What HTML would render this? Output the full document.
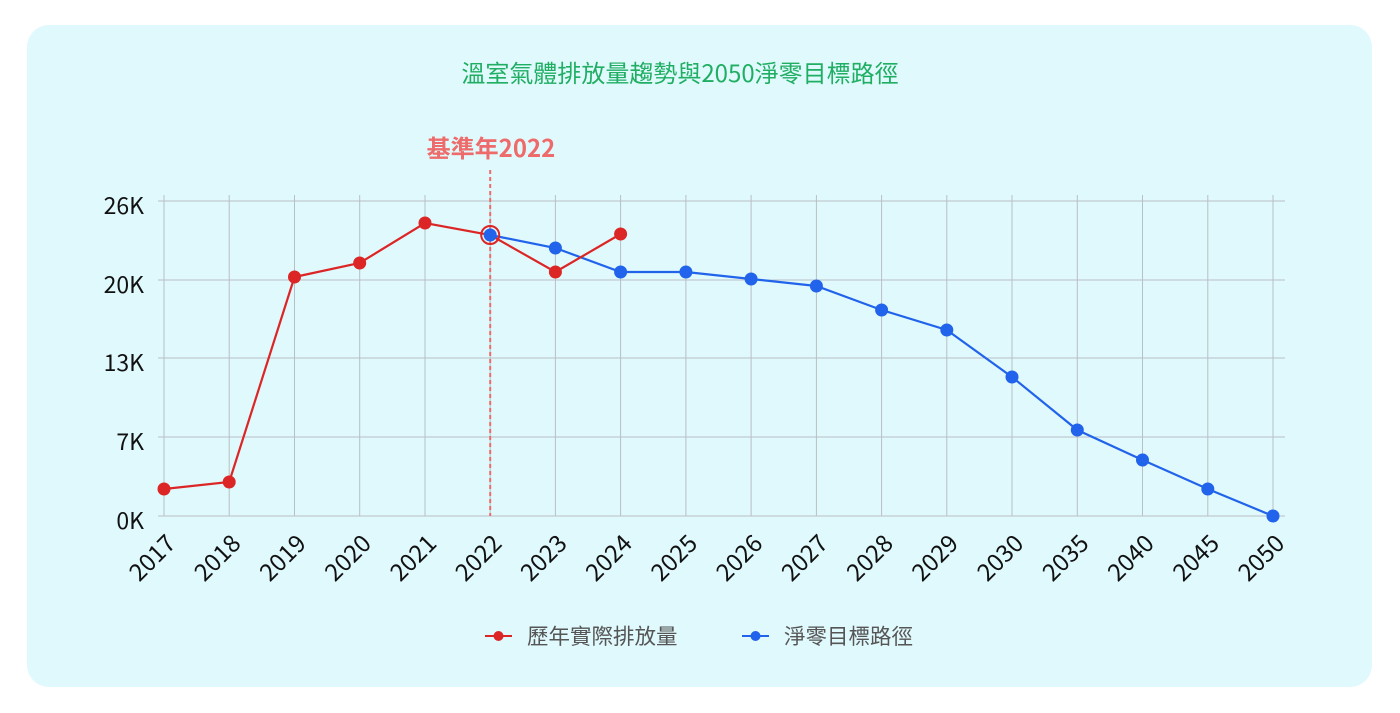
<!DOCTYPE html>
<html><head><meta charset="utf-8"><style>
html,body{margin:0;padding:0;background:#fff;}
svg{display:block;}
text{font-family:"Noto Sans CJK TC","Liberation Sans",sans-serif;}
</style></head><body>
<svg width="1400" height="713" xmlns="http://www.w3.org/2000/svg">
<rect x="27" y="25" width="1345" height="662" rx="22" fill="#e0f9fd"/>
<text x="680" y="82" text-anchor="middle" font-size="24" fill="#1fae62">溫室氣體排放量趨勢與2050淨零目標路徑</text>
<g stroke="#b9bfc3" stroke-width="1">
<line x1="158" y1="201" x2="1285" y2="201"/>
<line x1="158" y1="280" x2="1285" y2="280"/>
<line x1="158" y1="358" x2="1285" y2="358"/>
<line x1="158" y1="437" x2="1285" y2="437"/>
<line x1="158" y1="516" x2="1285" y2="516"/>
<line x1="164" y1="195" x2="164" y2="516"/><line x1="229.2" y1="195" x2="229.2" y2="516"/><line x1="294.5" y1="195" x2="294.5" y2="516"/><line x1="359.7" y1="195" x2="359.7" y2="516"/><line x1="425" y1="195" x2="425" y2="516"/><line x1="490.2" y1="195" x2="490.2" y2="516"/><line x1="555.4" y1="195" x2="555.4" y2="516"/><line x1="620.6" y1="195" x2="620.6" y2="516"/><line x1="685.9" y1="195" x2="685.9" y2="516"/><line x1="751.1" y1="195" x2="751.1" y2="516"/><line x1="816.4" y1="195" x2="816.4" y2="516"/><line x1="881.6" y1="195" x2="881.6" y2="516"/><line x1="946.8" y1="195" x2="946.8" y2="516"/><line x1="1012" y1="195" x2="1012" y2="516"/><line x1="1077.3" y1="195" x2="1077.3" y2="516"/><line x1="1142.5" y1="195" x2="1142.5" y2="516"/><line x1="1207.8" y1="195" x2="1207.8" y2="516"/><line x1="1273" y1="195" x2="1273" y2="516"/>
</g>
<g font-size="23" fill="#111" text-anchor="end">
<text x="144" y="214">26K</text><text x="144" y="293">20K</text><text x="144" y="371">13K</text><text x="144" y="450">7K</text><text x="144" y="529">0K</text>
</g>
<g font-size="24" fill="#111" text-anchor="end">
<text transform="translate(177,545) rotate(-45)">2017</text><text transform="translate(242.2,545) rotate(-45)">2018</text><text transform="translate(307.5,545) rotate(-45)">2019</text><text transform="translate(372.7,545) rotate(-45)">2020</text><text transform="translate(438,545) rotate(-45)">2021</text><text transform="translate(503.2,545) rotate(-45)">2022</text><text transform="translate(568.4,545) rotate(-45)">2023</text><text transform="translate(633.6,545) rotate(-45)">2024</text><text transform="translate(698.9,545) rotate(-45)">2025</text><text transform="translate(764.1,545) rotate(-45)">2026</text><text transform="translate(829.4,545) rotate(-45)">2027</text><text transform="translate(894.6,545) rotate(-45)">2028</text><text transform="translate(959.8,545) rotate(-45)">2029</text><text transform="translate(1025,545) rotate(-45)">2030</text><text transform="translate(1090.3,545) rotate(-45)">2035</text><text transform="translate(1155.5,545) rotate(-45)">2040</text><text transform="translate(1220.8,545) rotate(-45)">2045</text><text transform="translate(1286,545) rotate(-45)">2050</text>
</g>
<line x1="490.2" y1="170" x2="490.2" y2="516" stroke="#ee6b6b" stroke-width="2" stroke-dasharray="4,3"/>
<text x="491" y="157" text-anchor="middle" font-size="24" font-weight="bold" fill="#ee6b6b">基準年2022</text>
<polyline fill="none" stroke="#2163eb" stroke-width="2.2" points="490.2,235 555.4,248 620.6,272 685.9,272 751.1,279 816.4,286 881.6,310 946.8,330 1012,377 1077.3,430 1142.5,460 1207.8,489 1273,516"/>
<polyline fill="none" stroke="#dc2626" stroke-width="2.2" points="164,489 229.2,482 294.5,277 359.7,263 425,223 490.2,235 555.4,272 620.6,234"/>
<g fill="#dc2626">
<circle cx="164" cy="489" r="6.5"/><circle cx="229.2" cy="482" r="6.5"/><circle cx="294.5" cy="277" r="6.5"/><circle cx="359.7" cy="263" r="6.5"/><circle cx="425" cy="223" r="6.5"/><circle cx="555.4" cy="272" r="6.5"/><circle cx="620.6" cy="234" r="6.5"/>
</g>
<circle cx="490.2" cy="235" r="9" fill="none" stroke="#dc2626" stroke-width="2"/>
<g fill="#2163eb">
<circle cx="490.2" cy="235" r="6.5"/><circle cx="555.4" cy="248" r="6.5"/><circle cx="620.6" cy="272" r="6.5"/><circle cx="685.9" cy="272" r="6.5"/><circle cx="751.1" cy="279" r="6.5"/><circle cx="816.4" cy="286" r="6.5"/><circle cx="881.6" cy="310" r="6.5"/><circle cx="946.8" cy="330" r="6.5"/><circle cx="1012" cy="377" r="6.5"/><circle cx="1077.3" cy="430" r="6.5"/><circle cx="1142.5" cy="460" r="6.5"/><circle cx="1207.8" cy="489" r="6.5"/><circle cx="1273" cy="516" r="6.5"/>
</g>
<line x1="485" y1="636" x2="512" y2="636" stroke="#dc2626" stroke-width="2"/><circle cx="498.5" cy="636" r="5" fill="#dc2626"/>
<text x="527" y="644" font-size="21.5" fill="#555">歷年實際排放量</text>
<line x1="742" y1="636" x2="769" y2="636" stroke="#2163eb" stroke-width="2"/><circle cx="755.5" cy="636" r="5" fill="#2163eb"/>
<text x="784" y="644" font-size="21.5" fill="#555">淨零目標路徑</text>
</svg>
</body></html>
